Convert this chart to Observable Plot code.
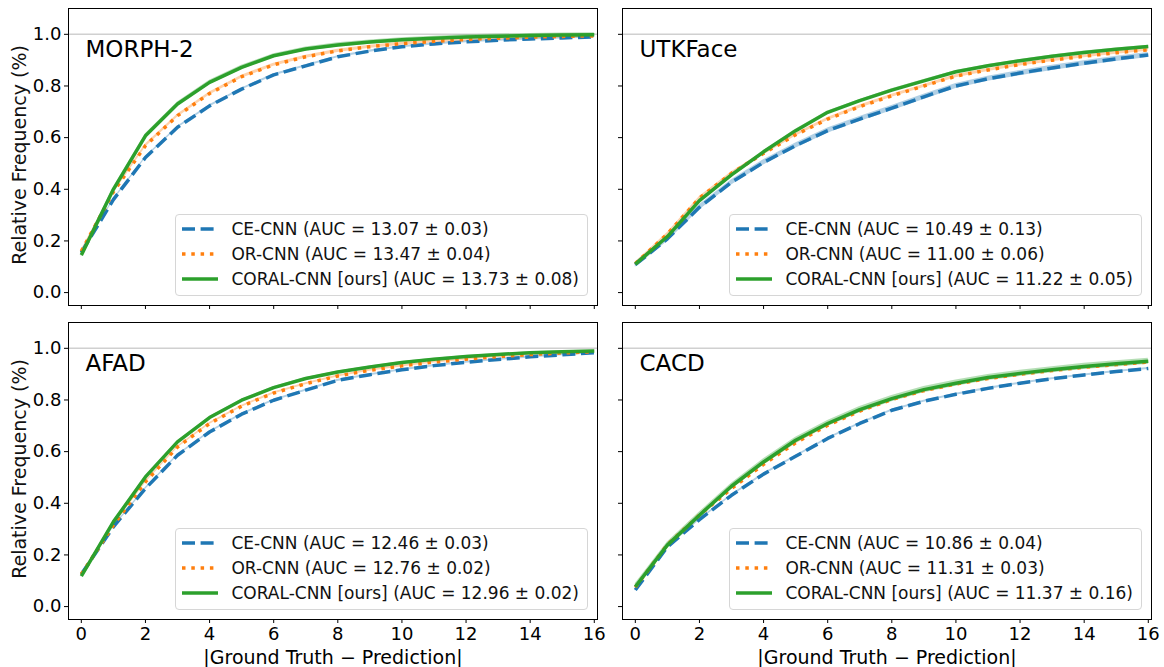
<!DOCTYPE html>
<html>
<head>
<meta charset="utf-8">
<script src="https://cdn.jsdelivr.net/npm/d3@7"></script>
<script src="https://cdn.jsdelivr.net/npm/@observablehq/plot@0.6"></script>
<style>
  html, body { margin: 0; padding: 0; background: white; }
  #root { position: relative; width: 1164px; height: 667px; overflow: hidden; font-family: "DejaVu Sans", sans-serif; }
  .panel { position: absolute; }
  .legend { position: absolute; background: rgba(255,255,255,0.85); border: 1px solid #d6d6d6; border-radius: 4px;
            padding: 1.5px 8px 3.5px 6px; font-size: 17px; color: #111; box-sizing: border-box; }
  .legend .row { height: 25px; display: flex; align-items: center; white-space: nowrap; }
  .legend svg { margin-right: 13px; flex: none; }
  .ylab { position: absolute; font-size: 19px; color: #111; white-space: nowrap;
          transform: translate(-50%, -50%) rotate(-90deg); }
</style>
</head>
<body>
<div id="root"></div>
<script>
// ---------- data ----------
const xValues = [0, 1, 2, 3, 4, 5, 6, 7, 8, 9, 10, 11, 12, 13, 14, 15, 16];
const xTicks = [0, 2, 4, 6, 8, 10, 12, 14, 16];
const yTicks = [0, 0.2, 0.4, 0.6, 0.8, 1.0];
const seriesNames = ["CE-CNN", "OR-CNN", "CORAL-CNN [ours]"];
const seriesColors = ["#1f77b4", "#ff7f0e", "#2ca02c"];
const seriesDash = ["13,5.6", "3.5,5.8", null];
const datasetTitles = ["MORPH-2", "UTKFace", "AFAD", "CACD"];
const yAxisLabel = "Relative Frequency (%)";
const xAxisLabel = "|Ground Truth − Prediction|";

const morphCE    = [0.155, 0.36, 0.523, 0.64, 0.723, 0.788, 0.843, 0.878, 0.913, 0.935, 0.952, 0.963, 0.971, 0.977, 0.982, 0.986, 0.99];
const morphOR    = [0.16, 0.39, 0.569, 0.685, 0.771, 0.836, 0.882, 0.913, 0.936, 0.952, 0.964, 0.973, 0.98, 0.985, 0.989, 0.992, 0.994];
const morphCORAL = [0.145, 0.40, 0.607, 0.73, 0.814, 0.872, 0.917, 0.943, 0.959, 0.97, 0.979, 0.985, 0.99, 0.993, 0.995, 0.997, 0.998];
const morphAUC   = ["13.07 ± 0.03", "13.47 ± 0.04", "13.73 ± 0.08"];
const morphBand  = [0.004, 0.006, 0.008];

const utkCE    = [0.108, 0.208, 0.33, 0.427, 0.504, 0.569, 0.627, 0.672, 0.714, 0.758, 0.80, 0.828, 0.85, 0.87, 0.888, 0.905, 0.92];
const utkOR    = [0.112, 0.227, 0.366, 0.462, 0.539, 0.611, 0.672, 0.72, 0.762, 0.80, 0.838, 0.862, 0.883, 0.9, 0.915, 0.929, 0.94];
const utkCORAL = [0.11, 0.217, 0.356, 0.456, 0.545, 0.627, 0.698, 0.743, 0.784, 0.82, 0.855, 0.878, 0.898, 0.915, 0.93, 0.942, 0.953];
const utkAUC   = ["10.49 ± 0.13", "11.00 ± 0.06", "11.22 ± 0.05"];
const utkBand  = [0.01, 0.006, 0.005];

const afadCE    = [0.125, 0.309, 0.457, 0.586, 0.676, 0.745, 0.799, 0.838, 0.876, 0.898, 0.917, 0.933, 0.946, 0.957, 0.967, 0.975, 0.983];
const afadOR    = [0.125, 0.315, 0.483, 0.618, 0.709, 0.776, 0.827, 0.863, 0.893, 0.915, 0.932, 0.947, 0.958, 0.968, 0.976, 0.982, 0.987];
const afadCORAL = [0.118, 0.328, 0.502, 0.638, 0.732, 0.799, 0.848, 0.883, 0.908, 0.928, 0.945, 0.958, 0.968, 0.976, 0.983, 0.987, 0.99];
const afadAUC   = ["12.46 ± 0.03", "12.76 ± 0.02", "12.96 ± 0.02"];
const afadBand  = [0.004, 0.004, 0.004];

const cacdCE    = [0.064, 0.231, 0.337, 0.431, 0.513, 0.582, 0.651, 0.709, 0.76, 0.795, 0.822, 0.845, 0.865, 0.882, 0.897, 0.91, 0.922];
const cacdOR    = [0.075, 0.24, 0.354, 0.457, 0.551, 0.634, 0.702, 0.757, 0.802, 0.836, 0.862, 0.883, 0.9, 0.914, 0.927, 0.937, 0.947];
const cacdCORAL = [0.077, 0.238, 0.354, 0.466, 0.56, 0.644, 0.709, 0.763, 0.805, 0.84, 0.865, 0.887, 0.903, 0.917, 0.93, 0.94, 0.95];
const cacdAUC   = ["10.86 ± 0.04", "11.31 ± 0.03", "11.37 ± 0.16"];
const cacdBand  = [0.004, 0.004, 0.012];

// ---------- layout ----------
const panels = [
  {title: datasetTitles[0], series: [morphCE, morphOR, morphCORAL], auc: morphAUC, band: morphBand,
   left: 0, top: 0, width: 600, height: 320, mL: 68, mR: 3, mT: 8, mB: 15, yLabels: true, xLabels: false,
   legendRight: 576, legendBottom: 371},
  {title: datasetTitles[1], series: [utkCE, utkOR, utkCORAL], auc: utkAUC, band: utkBand,
   left: 600, top: 0, width: 564, height: 320, mL: 22, mR: 13, mT: 8, mB: 15, yLabels: false, xLabels: false,
   legendRight: 22, legendBottom: 371},
  {title: datasetTitles[2], series: [afadCE, afadOR, afadCORAL], auc: afadAUC, band: afadBand,
   left: 0, top: 320, width: 600, height: 347, mL: 68, mR: 3, mT: 2, mB: 48, yLabels: true, xLabels: true,
   legendRight: 576, legendBottom: 57},
  {title: datasetTitles[3], series: [cacdCE, cacdOR, cacdCORAL], auc: cacdAUC, band: cacdBand,
   left: 600, top: 320, width: 564, height: 347, mL: 22, mR: 13, mT: 2, mB: 48, yLabels: false, xLabels: true,
   legendRight: 22, legendBottom: 57}
];

const root = document.getElementById("root");

for (const p of panels) {
  const marks = [Plot.ruleY([1], {stroke: "#d0d0d0", strokeWidth: 1.5})];
  p.series.forEach((vals, si) => {
    const rows = xValues.map((x, i) => ({x, y: vals[i], lo: vals[i] - p.band[si], hi: vals[i] + p.band[si]}));
    marks.push(Plot.areaY(rows, {x: "x", y1: "lo", y2: "hi", fill: seriesColors[si], fillOpacity: 0.35}));
  });
  p.series.forEach((vals, si) => {
    const rows = xValues.map((x, i) => ({x, y: vals[i]}));
    marks.push(Plot.lineY(rows, {x: "x", y: "y", stroke: seriesColors[si], strokeWidth: 3.5,
      strokeDasharray: seriesDash[si] || undefined, strokeLinecap: "butt", strokeLinejoin: "round"}));
  });
  marks.push(Plot.frame({stroke: "black", strokeWidth: 1}));
  marks.push(Plot.axisX({ticks: xTicks, tickSize: 4, tickPadding: 4, fontSize: 18, label: null,
    tickFormat: p.xLabels ? (d => String(d)) : (() => "")}));
  marks.push(Plot.axisY({ticks: yTicks, tickSize: 4, tickPadding: 3, fontSize: 18, label: null,
    tickFormat: p.yLabels ? d3.format(".1f") : (() => "")}));
  marks.push(Plot.text([p.title], {frameAnchor: "top-left", dx: 17, dy: 48, lineAnchor: "bottom",
    textAnchor: "start", fontSize: 23, fill: "black"}));
  if (p.xLabels) {
    marks.push(Plot.text([xAxisLabel], {frameAnchor: "bottom", dy: 44, lineAnchor: "bottom",
      fontSize: 19, fill: "black"}));
  }
  const svg = Plot.plot({
    width: p.width, height: p.height,
    marginLeft: p.mL, marginRight: p.mR, marginTop: p.mT, marginBottom: p.mB,
    x: {domain: [-0.4, 16.1]},
    y: {domain: [-0.05, 1.1]},
    style: {fontFamily: "DejaVu Sans", background: "transparent", color: "black", overflow: "visible"},
    marks
  });
  const wrap = document.createElement("div");
  wrap.className = "panel";
  wrap.style.left = p.left + "px";
  wrap.style.top = p.top + "px";
  wrap.appendChild(svg);
  root.appendChild(wrap);

  if (p.yLabels) {
    const yl = document.createElement("div");
    yl.className = "ylab";
    yl.textContent = yAxisLabel;
    yl.style.left = "19px";
    yl.style.top = (p.top + p.mT + (p.height - p.mT - p.mB) / 2 - 2) + "px";
    root.appendChild(yl);
  }

  const leg = document.createElement("div");
  leg.className = "legend";
  leg.style.right = p.legendRight + "px";
  leg.style.bottom = p.legendBottom + "px";
  seriesNames.forEach((name, si) => {
    const row = document.createElement("div");
    row.className = "row";
    const dash = seriesDash[si] ? `stroke-dasharray="${seriesDash[si]}"` : "";
    row.innerHTML = `<svg width="36" height="10"><line x1="0" x2="36" y1="5" y2="5" stroke="${seriesColors[si]}" stroke-width="3.5" ${dash}/></svg><span>${name} (AUC = ${p.auc[si]})</span>`;
    leg.appendChild(row);
  });
  root.appendChild(leg);
}
</script>
</body>
</html>
